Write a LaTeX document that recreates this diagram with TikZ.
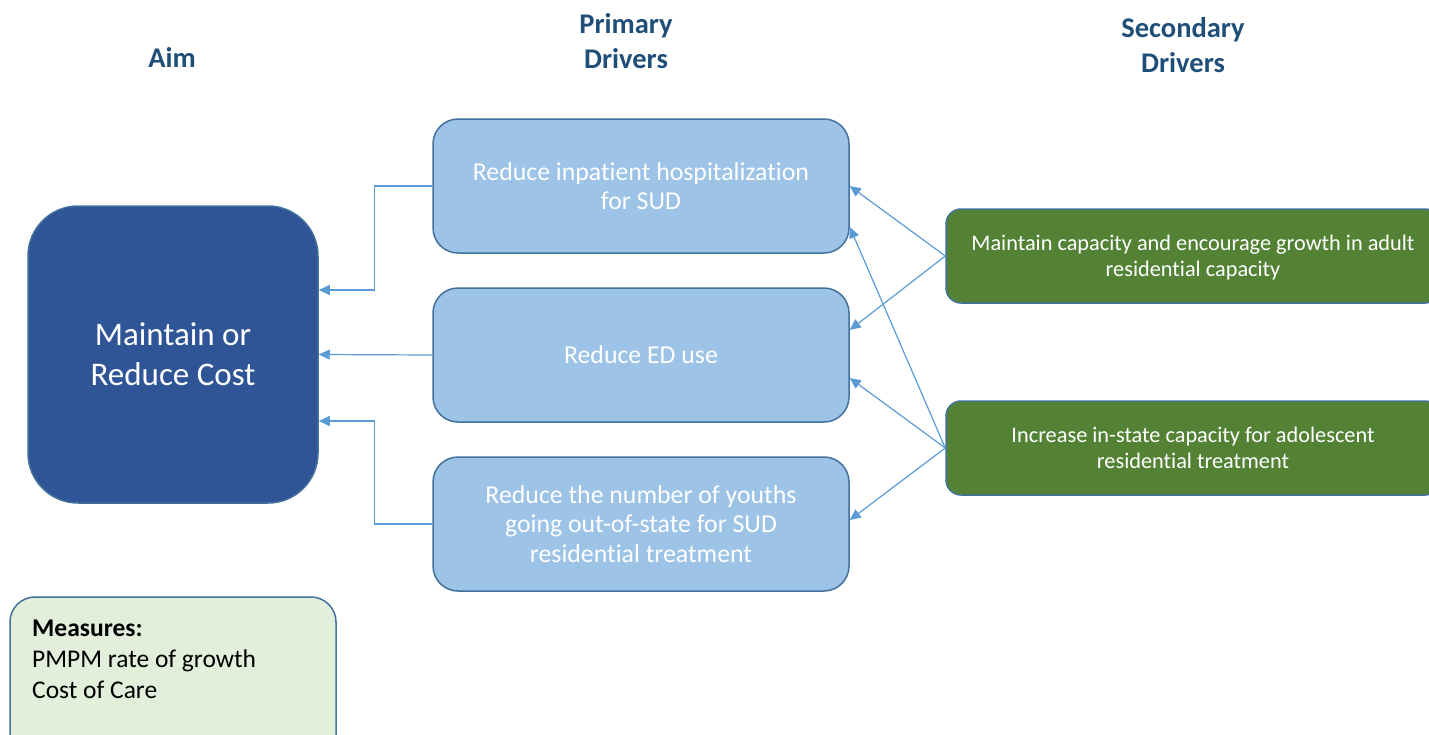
\documentclass[tikz,border=0pt]{standalone}
\usepackage{fontspec}
\setmainfont{Carlito}[Ligatures={NoCommon,NoRare}]
\usetikzlibrary{arrows.meta,calc}
\definecolor{aimblue}{HTML}{2F5597}
\definecolor{edgeblue}{HTML}{41719C}
\definecolor{pbox}{HTML}{9DC3E6}
\definecolor{gbox}{HTML}{548235}
\definecolor{mbox}{HTML}{E2EFDA}
\definecolor{headc}{HTML}{1F4E79}
\definecolor{arrowc}{HTML}{5B9BD5}
\begin{document}
\begin{tikzpicture}[x=1pt,y=-1pt,
  heading/.style={font=\fontsize{28.5}{35}\selectfont\bfseries, text=headc, align=center},
  aimbox/.style={draw=edgeblue, line width=1.5pt, fill=aimblue, rounded corners=50pt,
    minimum width=290pt, minimum height=297pt, text=white, align=center,
    font=\fontsize{33}{40}\selectfont},
  pdriver/.style={draw=edgeblue, line width=1.5pt, fill=pbox, rounded corners=25pt,
    minimum width=416pt, minimum height=134pt, text=white, align=center,
    font=\fontsize{25.8}{29.5}\selectfont},
  sdriver/.style={draw=edgeblue, line width=1.5pt, fill=gbox, rounded corners=15pt,
    minimum width=494pt, minimum height=94pt, text=white, align=center,
    font=\fontsize{22.3}{26}\selectfont},
  measbox/.style={draw=edgeblue, line width=1.5pt, fill=mbox, rounded corners=25pt,
    minimum width=326pt, minimum height=170pt},
  meastext/.style={align=left, font=\fontsize{25.5}{31}\selectfont, text=black, inner sep=0pt},
  link/.style={draw=arrowc, line width=1.2pt, -{Triangle[length=11pt,width=10pt]}}
]
\useasboundingbox (0,0) rectangle (1429,734);
\clip (0,0) rectangle (1429,734);

% headings
\node[heading] (haim) at (172,57) {Aim};
\node[heading] (hprim) at (626,41) {Primary\\Drivers};
\node[heading] (hsec) at (1183,45) {Secondary\\Drivers};

% aim
\node[aimbox] (aim) at (173,354.5) {Maintain or\\Reduce Cost};

% primary drivers
\node[pdriver] (p1) at (641,186) {Reduce inpatient hospitalization\\for SUD};
\node[pdriver] (p2) at (641,355) {Reduce ED use};
\node[pdriver] (p3) at (641,524) {Reduce the number of youths\\going out-of-state for SUD\\residential treatment};

% secondary drivers
\node[sdriver, text depth=1pt] (s1) at (1193,256) {Maintain capacity and encourage growth in adult\\residential capacity};
\node[sdriver, text depth=1pt] (s2) at (1193,448) {Increase in-state capacity for adolescent\\residential treatment};

% measures
\node[measbox] (meas) at (173,682) {};
\node[meastext, anchor=west] (mtext) at (32,659) {\textbf{Measures:}\\PMPM rate of growth\\Cost of Care};

% primary -> aim
\coordinate (e1) at (aim.east |- 0,290);
\coordinate (e3) at (aim.east |- 0,421);
\draw[link] (p1.west) -- ++(-58,0) |- (e1);
\draw[link] (p2.west) -- (aim.east);
\draw[link] (p3.west) -- ++(-58,0) |- (e3);

% secondary -> primary
\draw[link] (s1.west) -- (p1.east);
\draw[link] (s1.west) -- (p2.east |- 0,330);
\draw[link] (s2.west) -- (p1.east |- 0,227);
\draw[link] (s2.west) -- (p2.east |- 0,378);
\draw[link] (s2.west) -- (p3.east |- 0,520);
\end{tikzpicture}
\end{document}
